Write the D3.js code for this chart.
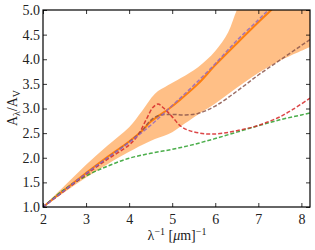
<!DOCTYPE html>
<html>
<head>
<meta charset="utf-8">
<script src="https://cdn.jsdelivr.net/npm/d3@7"></script>
<style>
  body { margin: 0; background: #fff; }
</style>
</head>
<body>
<svg id="chart" width="315" height="250"></svg>
<script>
// values (x = 1/lambda in um^-1, y = A_lambda/A_V)
var xTicks = [2, 3, 4, 5, 6, 7, 8];
var yTicks = [1.0, 1.5, 2.0, 2.5, 3.0, 3.5, 4.0, 4.5, 5.0];

var bandUpper = [[2, 1.0], [2.5, 1.43], [3, 1.86], [3.5, 2.25], [4, 2.62], [4.3, 2.95], [4.6, 3.3], [4.9, 3.47],
    [5.2, 3.62], [5.6, 3.84], [6.0, 4.17], [6.3, 4.55], [6.5, 5.0], [6.7, 5.35], [8.2, 5.4]];
var bandLower = [[2, 1.0], [2.5, 1.3], [3, 1.6], [3.5, 1.87], [4, 2.12], [4.3, 2.26], [4.6, 2.38], [5.0, 2.52],
    [5.3, 2.7], [5.6, 2.88], [6.0, 3.1], [6.5, 3.42], [7.0, 3.72], [7.5, 3.97], [8.2, 4.25]];
var meanCurve = [[2, 1.0], [2.5, 1.35], [3, 1.69], [3.5, 2.02], [4, 2.33], [4.3, 2.55], [4.5, 2.73], [4.7, 2.86],
    [4.9, 2.98], [5.2, 3.19], [5.6, 3.5], [6.0, 3.88], [6.5, 4.32], [7.0, 4.75], [7.3, 5.0], [8.2, 5.8]];
var purpleCurve = [[2, 1.0], [2.5, 1.34], [3, 1.68], [3.5, 2.0], [4, 2.31], [4.5, 2.66], [5.0, 3.06], [5.5, 3.47],
    [6.0, 3.91], [6.5, 4.38], [7.0, 4.8], [7.25, 5.02], [8.2, 5.9]];
var redCurve = [[2, 1.0], [2.5, 1.33], [3, 1.66], [3.5, 1.97], [4, 2.26], [4.2, 2.45], [4.4, 2.78], [4.55, 3.02],
    [4.67, 3.09], [4.8, 3.01], [5.0, 2.83], [5.2, 2.64], [5.4, 2.55], [5.65, 2.5], [5.9, 2.48], [6.2, 2.5],
    [6.5, 2.55], [6.9, 2.63], [7.2, 2.72], [7.5, 2.83], [7.8, 2.98], [8.2, 3.21]];
var brownCurve = [[2, 1.0], [2.5, 1.34], [3, 1.68], [3.5, 2.0], [4, 2.32], [4.3, 2.55], [4.5, 2.76], [4.7, 2.86],
    [5.0, 2.88], [5.3, 2.87], [5.6, 2.9], [6.0, 3.05], [6.5, 3.35], [7.0, 3.68], [7.5, 3.98], [8.0, 4.28], [8.2, 4.4]];
var greenCurve = [[2, 1.0], [2.5, 1.36], [3, 1.63], [3.5, 1.83], [4, 1.99], [4.5, 2.09], [5.0, 2.17], [5.5, 2.27],
    [6.0, 2.39], [6.5, 2.52], [7.0, 2.65], [7.5, 2.77], [8.0, 2.87], [8.2, 2.91]];

var margin = {left: 43, right: 5, top: 10, bottom: 43};
var width = 315, height = 250;
var serif = "Liberation Serif";

var svg = d3.select("#chart");

var x = d3.scaleLinear().domain([2, 8.2]).range([margin.left, width - margin.right]);
var y = d3.scaleLinear().domain([1, 5]).range([height - margin.bottom, margin.top]);

svg.append("clipPath").attr("id", "plotClip")
    .append("rect")
    .attr("x", x(2)).attr("y", y(5))
    .attr("width", x(8.2) - x(2)).attr("height", y(1) - y(5));

var plot = svg.append("g").attr("clip-path", "url(#plotClip)");

var curve = d3.curveCatmullRom.alpha(0.5);
var line = d3.line().x(d => x(d[0])).y(d => y(d[1])).curve(curve);

// shaded band: upper edge forward, lower edge back, closed
var lowerRev = bandLower.slice().reverse();
plot.append("path")
    .attr("d", line(bandUpper) + "L" + line(lowerRev).slice(1) + "Z")
    .attr("fill", "#ff7f0e")
    .attr("fill-opacity", 0.5)
    .attr("stroke", "none");

plot.append("path")
    .attr("d", line(meanCurve))
    .attr("fill", "none")
    .attr("stroke", "#ff7f0e")
    .attr("stroke-width", 2);

var dashed = [
    {data: greenCurve, color: "#2ca02c"},
    {data: redCurve, color: "#d62728"},
    {data: brownCurve, color: "#8c564b"},
    {data: purpleCurve, color: "#9467bd"}
];

plot.selectAll(".dash")
    .data(dashed)
    .enter()
    .append("path")
    .classed("dash", true)
    .attr("d", d => line(d.data))
    .attr("fill", "none")
    .attr("stroke", d => d.color)
    .attr("stroke-opacity", 0.85)
    .attr("stroke-width", 1.5)
    .attr("stroke-dasharray", "4,2");

// axes: ticks inward on all four sides
var tickLen = 4;
svg.append("g")
    .attr("transform", "translate(0," + y(1) + ")")
    .call(d3.axisBottom(x).tickValues(xTicks).tickSizeInner(-tickLen).tickSizeOuter(0).tickPadding(7).tickFormat(d3.format("d")));
svg.append("g")
    .attr("transform", "translate(0," + y(5) + ")")
    .call(d3.axisTop(x).tickValues(xTicks).tickSizeInner(-tickLen).tickSizeOuter(0).tickFormat(""));
svg.append("g")
    .attr("transform", "translate(" + x(2) + ",0)")
    .call(d3.axisLeft(y).tickValues(yTicks).tickSizeInner(-tickLen).tickSizeOuter(0).tickPadding(3).tickFormat(d3.format(".1f")));
svg.append("g")
    .attr("transform", "translate(" + x(8.2) + ",0)")
    .call(d3.axisRight(y).tickValues(yTicks).tickSizeInner(-tickLen).tickSizeOuter(0).tickFormat(""));

svg.selectAll(".domain").remove();
svg.selectAll(".tick line").attr("stroke", "#000").attr("stroke-width", 0.8);
svg.selectAll(".tick text")
    .attr("font-family", serif)
    .attr("font-size", 14)
    .attr("fill", "#222");

svg.append("rect")
    .attr("x", x(2)).attr("y", y(5))
    .attr("width", x(8.2) - x(2)).attr("height", y(1) - y(5))
    .attr("fill", "none")
    .attr("stroke", "#000")
    .attr("stroke-width", 1.2);

// axis labels
var xl = svg.append("text")
    .attr("x", 177).attr("y", 240)
    .attr("text-anchor", "middle")
    .attr("font-family", serif)
    .attr("font-size", 14)
    .attr("fill", "#222");
xl.append("tspan").text("λ");
xl.append("tspan").attr("dy", -5).attr("font-size", 10).text("−1");
xl.append("tspan").attr("dy", 5).text(" [");
xl.append("tspan").attr("font-style", "italic").text("μ");
xl.append("tspan").text("m]");
xl.append("tspan").attr("dy", -5).attr("font-size", 10).text("−1");

var yl = svg.append("text")
    .attr("transform", "translate(17,108) rotate(-90)")
    .attr("text-anchor", "middle")
    .attr("font-family", serif)
    .attr("font-size", 14)
    .attr("fill", "#222");
yl.append("tspan").text("A");
yl.append("tspan").attr("dy", 3).attr("font-size", 10).text("λ");
yl.append("tspan").attr("dy", -3).text("/A");
yl.append("tspan").attr("dy", 3).attr("font-size", 10).text("V");
</script>
</body>
</html>
